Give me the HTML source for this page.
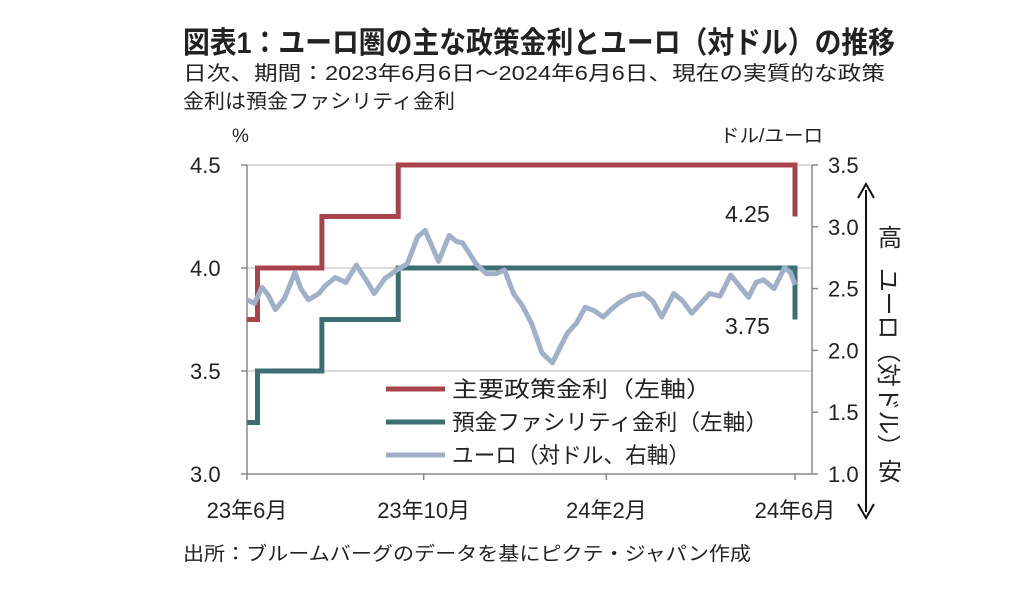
<!DOCTYPE html>
<html><head><meta charset="utf-8"><style>
body{margin:0;background:#fff;}
svg text{font-family:"Liberation Sans","Noto Sans CJK JP",sans-serif;fill:#222;}
</style></head><body>
<svg id="chart" width="1012" height="598" xmlns="http://www.w3.org/2000/svg">
<text x="183" y="53" font-size="30" font-weight="bold" textLength="712" lengthAdjust="spacingAndGlyphs">図表1：ユーロ圏の主な政策金利とユーロ（対ドル）の推移</text>
<text x="183" y="80" font-size="20" textLength="702" lengthAdjust="spacingAndGlyphs">日次、期間：2023年6月6日～2024年6月6日、現在の実質的な政策</text>
<text x="183" y="108" font-size="20" textLength="272" lengthAdjust="spacingAndGlyphs">金利は預金ファシリティ金利</text>
<text x="232" y="142" font-size="19">%</text>
<text x="720" y="142" font-size="19" textLength="103" lengthAdjust="spacingAndGlyphs">ドル/ユーロ</text>
<g id="grid"></g>
<g id="axes"></g>
<g id="series"></g>
<text x="725" y="222" font-size="23">4.25</text>
<text x="725" y="334" font-size="23">3.75</text>
<g>
<line x1="386" y1="389" x2="445" y2="389" stroke="#a8434a" stroke-width="5"/>
<text x="452" y="397" font-size="22" textLength="260" lengthAdjust="spacingAndGlyphs">主要政策金利（左軸）</text>
<line x1="386" y1="422" x2="445" y2="422" stroke="#3d6e74" stroke-width="5"/>
<text x="452" y="430" font-size="22" textLength="316" lengthAdjust="spacingAndGlyphs">預金ファシリティ金利（左軸）</text>
<line x1="386" y1="455" x2="445" y2="455" stroke="#9fb0c8" stroke-width="5"/>
<text x="452" y="463" font-size="22" textLength="238" lengthAdjust="spacingAndGlyphs">ユーロ（対ドル、右軸）</text>
</g>
<g>
<line x1="866" y1="190" x2="866" y2="512" stroke="#111" stroke-width="2"/>
<polyline points="858,198 866,184 874,198" fill="none" stroke="#111" stroke-width="2"/>
<polyline points="858,504 866,518 874,504" fill="none" stroke="#111" stroke-width="2"/>
</g>
<text x="878" y="246" font-size="24">高</text>
<text font-size="24" transform="translate(880,268) rotate(90)" textLength="190" lengthAdjust="spacingAndGlyphs">ユーロ（対ドル）</text>
<text x="878" y="480" font-size="24">安</text>
<text x="183" y="560" font-size="19" textLength="568" lengthAdjust="spacingAndGlyphs">出所：ブルームバーグのデータを基にピクテ・ジャパン作成</text>
</svg>
<script>
const leftTicks=[3.0,3.5,4.0,4.5];
const rightTicks=[1.0,1.5,2.0,2.5,3.0,3.5];
const xTickDays=[0,118,240,366];
const xTickLabels=["23年6月","23年10月","24年2月","24年6月"];
const policyDays=[0,7,50,101,363,366];
const policyVals=[3.75,4.0,4.25,4.5,4.5,4.25];
const depositDays=[0,7,50,101,363,366];
const depositVals=[3.25,3.5,3.75,4.0,4.0,3.75];
const euroDays=[0,5,10,14,19,25,32,36,41,48,52,59,66,73,79,85,92,100,107,114,119,124,128,135,140,144,153,160,166,172,178,184,190,197,204,209,214,220,226,232,238,243,248,256,265,271,277,285,291,297,303,309,316,323,329,335,340,345,352,359,363,366];
const euroVals=[2.41,2.38,2.51,2.45,2.33,2.42,2.63,2.50,2.41,2.46,2.52,2.59,2.55,2.69,2.58,2.46,2.58,2.65,2.70,2.92,2.97,2.83,2.72,2.93,2.88,2.87,2.70,2.62,2.62,2.65,2.46,2.36,2.22,1.98,1.90,2.02,2.14,2.22,2.35,2.32,2.27,2.33,2.38,2.44,2.46,2.40,2.27,2.46,2.40,2.30,2.38,2.46,2.44,2.61,2.52,2.43,2.55,2.57,2.50,2.67,2.63,2.53];
const X0=247,X1=795,YT=165,YB=474;
const x=d=>X0+(X1-X0)*d/366;
const yL=v=>YB-(v-3.0)/1.5*(YB-YT);
const yR=v=>YB-(v-1.0)/2.5*(YB-YT);
const NS="http://www.w3.org/2000/svg";
function mk(tag,attrs,parent){const e=document.createElementNS(NS,tag);for(const k in attrs)e.setAttribute(k,attrs[k]);document.getElementById(parent).appendChild(e);return e;}
leftTicks.forEach(v=>{
  if(v>3.0){const g=mk('line',{x1:X0,x2:812,y1:yL(v),y2:yL(v),stroke:'#d0d0d0','stroke-width':1.5},'grid');
  
  }
  const t=mk('text',{x:190,y:yL(v)+8,'font-size':22},'axes');t.textContent=v.toFixed(1);
  
  
  mk('line',{x1:X0-6,x2:X0,y1:yL(v),y2:yL(v),stroke:'#888','stroke-width':1.5},'axes');
});
rightTicks.forEach(v=>{
  const t=mk('text',{x:828,y:yR(v)+8,'font-size':22},'axes');t.textContent=v.toFixed(1);
  
  
  mk('line',{x1:812,x2:818,y1:yR(v),y2:yR(v),stroke:'#888','stroke-width':1.5},'axes');
});
const la=mk('line',{x1:X0,x2:X0,y1:YT,y2:YB,stroke:'#888','stroke-width':1.5},'axes');


const ra=mk('line',{x1:812,x2:812,y1:YT,y2:YB,stroke:'#888','stroke-width':1.5},'axes');


const xa=mk('line',{x1:X0,x2:812,y1:YB,y2:YB,stroke:'#888','stroke-width':1.5},'axes');


xTickDays.forEach((d,i)=>{
  mk('line',{x1:x(d),x2:x(d),y1:YB,y2:YB+6,stroke:'#888','stroke-width':1.5},'axes');
  const t=mk('text',{x:x(d),y:518,'font-size':22,'text-anchor':'middle'},'axes');t.textContent=xTickLabels[i];
  
  
});
function stepPts(days,vals){let p=[];for(let i=0;i<days.length;i++){if(i>0)p.push(x(days[i])+','+yL(vals[i-1]));p.push(x(days[i])+','+yL(vals[i]));}return p.join(' ');}
const dep=mk('polyline',{points:stepPts(depositDays,depositVals),fill:'none',stroke:'#3d6e74','stroke-width':5},'series');


const pol=mk('polyline',{points:stepPts(policyDays,policyVals),fill:'none',stroke:'#a8434a','stroke-width':5},'series');


const eu=mk('polyline',{points:euroDays.map((d,i)=>x(d)+','+yR(euroVals[i])).join(' '),fill:'none',stroke:'#9fb0c8','stroke-width':5,'stroke-linejoin':'round'},'series');


</script>
</body></html>
